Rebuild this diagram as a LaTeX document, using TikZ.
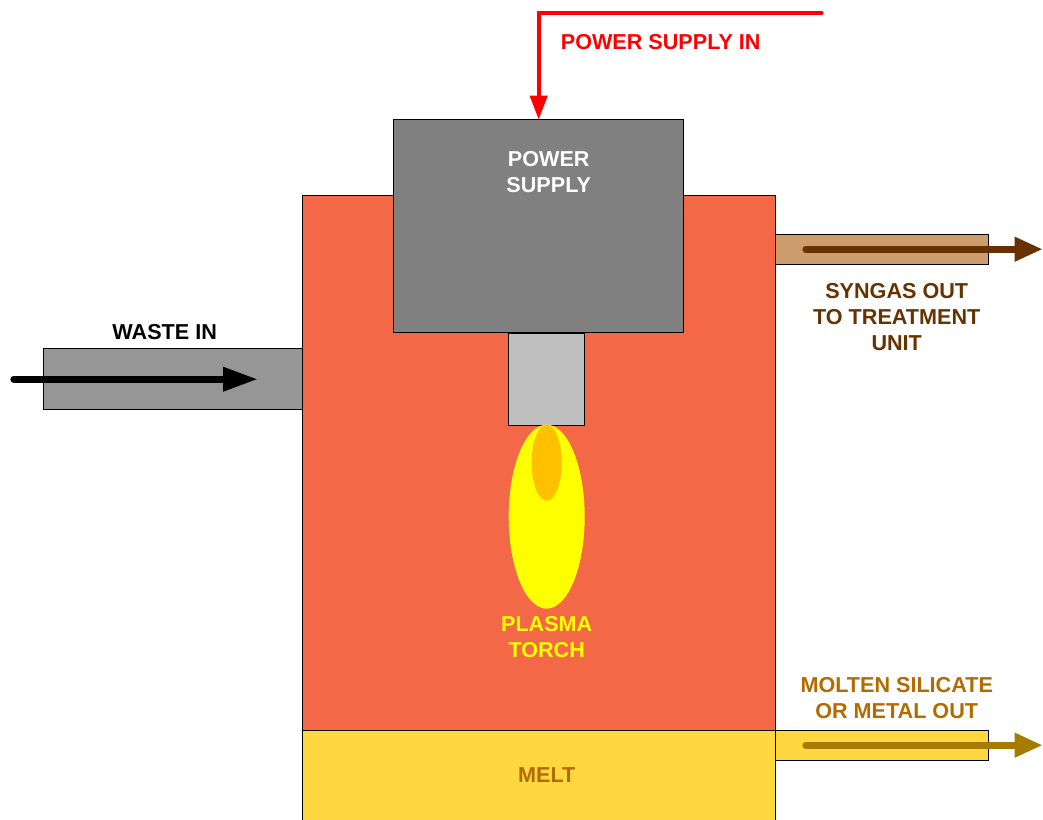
\documentclass[tikz,border=0pt]{standalone}
\usepackage{fontspec}
\setmainfont{Liberation Sans}
\usetikzlibrary{arrows.meta,shapes.geometric}
\definecolor{chamberred}{HTML}{F36947}
\definecolor{meltyellow}{HTML}{FFD83F}
\definecolor{wastegray}{HTML}{969696}
\definecolor{supplygray}{HTML}{808080}
\definecolor{torchgray}{HTML}{C0C0C0}
\definecolor{syngastan}{HTML}{CE9D6E}
\definecolor{syngasbrown}{HTML}{663300}
\definecolor{meltarrow}{HTML}{A67C00}
\definecolor{melttext}{HTML}{B36B00}
\definecolor{flamecore}{HTML}{FFC000}
\definecolor{plasmayellow}{HTML}{FFFF00}
\tikzset{
	box/.style n args={3}{draw=black, line width=0.75pt, fill=#1, inner sep=0pt, outer sep=0pt,
		minimum width=#2*0.75pt, minimum height=#3*0.75pt},
	flame/.style n args={3}{ellipse, fill=#1, inner sep=0pt, outer sep=0pt,
		minimum width=#2*0.75pt, minimum height=#3*0.75pt},
	label/.style={font=\bfseries\fontsize{16.2}{19.5}\selectfont, align=center, inner sep=0pt},
	flow/.style={line width=5pt, line cap=round, -{Triangle[length=21pt,width=17.25pt]}},
}

\begin{document}
\begin{tikzpicture}[x=0.75pt, y=-0.75pt]
	\useasboundingbox (0,0) rectangle (1043,819);
	\clip (0,0) rectangle (1043,819);
	% vessel and ducts
	\node[box={chamberred}{473}{535}] (chamber) at (539.2,463.2) {};
	\node[box={meltyellow}{473}{120}] (melt) at (539.2,790.7) {};
	\node[box={wastegray}{259}{61}] (wasteduct) at (173.2,379.2) {};
	\node[box={syngastan}{213}{30}] (syngasduct) at (882.2,249.7) {};
	\node[box={meltyellow}{213}{30}] (meltduct) at (882.2,745.7) {};
	% power supply and torch
	\node[box={supplygray}{290}{213}] (supply) at (538.7,226.2) {};
	\node[box={torchgray}{76}{92}] (torch) at (546.7,379.2) {};
	\node[flame={plasmayellow}{76}{184}] (plasma) at (546.7,516.7) {};
	\node[flame={flamecore}{30}{76}] (core) at (546.7,462.7) {};
	% flow ends
	\coordinate (powerstart) at (821.7,12.7);
	\coordinate (powerbend) at (supply.north |- powerstart);
	\coordinate (wastestart) at (13.7,379.2);
	\coordinate (wasteend) at (257.7,379.2);
	\coordinate (syngasstart) at (805.7,249.2);
	\coordinate (syngasend) at (1042.7,249.2);
	\coordinate (meltstart) at (805.7,745.2);
	\coordinate (meltend) at (1042.7,745.2);
	\draw[line width=3pt, line cap=round, red, -{Triangle[length=18pt,width=12.75pt]}] (powerstart) -- (powerbend) -- (supply.north);
	\draw[flow, black, -{Triangle[length=26pt,width=17.25pt]}] (wastestart) -- (wasteend);
	\draw[flow, syngasbrown] (syngasstart) -- (syngasend);
	\draw[flow, meltarrow] (meltstart) -- (meltend);
	% labels
	\node[label, red] (powerlabel) at (660.7,41.7) {POWER SUPPLY IN};
	\node[label, white] (supplylabel) at (548.7,172.2) {POWER\\SUPPLY};
	\node[label, black] (wastelabel) at (164.7,332.2) {WASTE IN};
	\node[label, syngasbrown] (syngaslabel) at (896.7,317.2) {SYNGAS OUT\\TO TREATMENT\\UNIT};
	\node[label, plasmayellow] (plasmalabel) at (546.7,636.7) {PLASMA\\TORCH};
	\node[label, melttext] (moltenlabel) at (896.7,698.2) {MOLTEN SILICATE\\OR METAL OUT};
	\node[label, melttext] (meltlabel) at (546.7,774.7) {MELT};
\end{tikzpicture}
\end{document}
